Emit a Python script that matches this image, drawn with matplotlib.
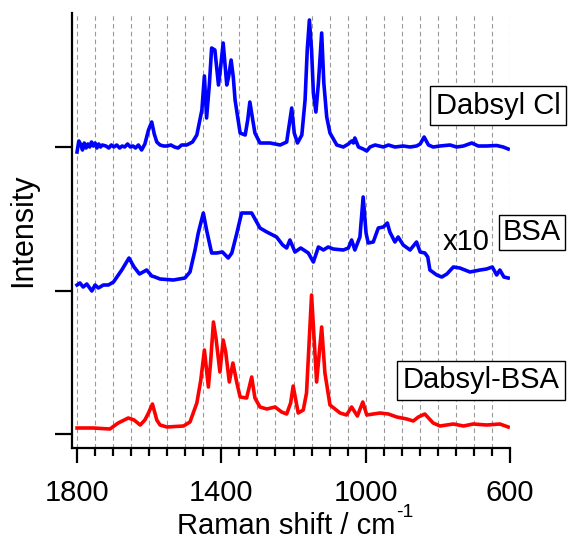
import matplotlib
matplotlib.use("Agg")
import matplotlib.pyplot as plt
import numpy as np

plt.rcParams['font.family'] = ['Liberation Sans', 'DejaVu Sans']

# Dabsyl Cl spectrum (raman shift, intensity above its own baseline)
dabsyl_cl_x = [1800, 1795, 1789, 1785, 1780, 1775, 1770, 1765, 1760, 1755, 1750, 1745, 1740,
               1735, 1730, 1720, 1712, 1705, 1698, 1690, 1682, 1675, 1668, 1660, 1652, 1645,
               1638, 1630, 1621, 1612, 1602, 1593, 1586, 1579, 1570, 1560, 1550, 1540, 1530,
               1520, 1510, 1496, 1480, 1468, 1454, 1447, 1441, 1433, 1427, 1418, 1408, 1402,
               1395, 1385, 1380, 1373, 1367, 1362, 1348, 1334, 1327, 1321, 1313, 1307, 1293,
               1265, 1237, 1219, 1205, 1198, 1189, 1177, 1168, 1162, 1156, 1150, 1145, 1138,
               1131, 1122, 1116, 1108, 1099, 1080, 1062, 1048, 1039, 1034, 1030, 1020, 1007,
               997, 988, 974, 951, 937, 919, 896, 877, 859, 849, 838, 826, 813, 794, 766, 748,
               729, 706, 688, 665, 637, 619, 605]
dabsyl_cl_y = [-5, 6, 2, -3, 4, -1, 3, 0, 5, 1, 4, -1, 3,
               0, 2, 1, -1, 2, 0, 2, -1, 1, 0, 3, 0, 1,
               -1, 2, -3, 3, 17, 25, 13, 5, 2, 1, 1, 2, 0,
               -1, 2, 2, 5, 12, 37, 71, 29, 64, 99, 97, 62, 80,
               104, 62, 70, 87, 70, 47, 14, 12, 27, 45, 27, 14, 4,
               4, 2, 5, 39, 14, 4, 12, 47, 97, 127, 97, 54, 35,
               64, 114, 64, 30, 14, 2, 0, 3, 6, 4, 9, 0, -2,
               -4, 0, 2, 0, 2, 0, 1, 0, 1, 3, 10, 2, 0, 1, 2, 0,
               1, 4, 1, 1, 1.5, 0, -2]

# BSA spectrum (shown x10)
bsa_x = [1800, 1792, 1783, 1773, 1759, 1750, 1741, 1727, 1713, 1699, 1676, 1656, 1642, 1627,
         1607, 1593, 1584, 1570, 1533, 1501, 1487, 1473, 1464, 1450, 1441, 1427, 1413, 1397,
         1381, 1371, 1357, 1344, 1330, 1316, 1293, 1274, 1247, 1230, 1219, 1210, 1196, 1180,
         1159, 1145, 1131, 1117, 1104, 1090, 1062, 1048, 1039, 1030, 1016, 1007, 999, 993,
         979, 965, 951, 940, 933, 919, 910, 896, 877, 859, 849, 836, 828, 822, 803, 789,
         775, 757, 739, 711, 683, 665, 649, 637, 628, 617, 605]
bsa_y = [6, 8, 4, 7, 0, 6, 3, 6, 6, 9, 21, 33, 24, 17,
         21, 15, 14, 12, 11, 13, 19, 41, 58, 78, 61, 38, 38, 39,
         33, 38, 58, 78, 78, 78, 63, 59, 54, 46, 43, 51, 39, 43,
         38, 29, 44, 41, 44, 42, 41, 43, 51, 41, 54, 94, 58, 48,
         49, 63, 64, 68, 59, 49, 54, 46, 41, 49, 39, 38, 34, 21, 16, 14,
         17, 24, 23, 19, 21, 22, 24, 16, 21, 14, 13]

# Dabsyl-BSA spectrum
dabsyl_bsa_x = [1800, 1755, 1709, 1686, 1658, 1642, 1625, 1612, 1602, 1591, 1579, 1570, 1551,
                1505, 1487, 1468, 1457, 1447, 1436, 1430, 1422, 1415, 1404, 1395, 1388, 1378,
                1368, 1357, 1348, 1330, 1316, 1307, 1293, 1274, 1251, 1233, 1219, 1208, 1201,
                1187, 1173, 1164, 1150, 1136, 1122, 1113, 1099, 1071, 1053, 1039, 1023, 1008,
                997, 979, 960, 937, 914, 886, 868, 854, 836, 813, 794, 757, 729, 702, 665,
                628, 605]
dabsyl_bsa_y = [6, 6, 5, 11, 16, 14, 9, 14, 21, 30, 14, 9, 7,
                8, 12, 31, 54, 84, 47, 71, 112, 96, 62, 94, 82, 52,
                71, 51, 37, 36, 57, 36, 27, 25, 27, 22, 20, 31, 48,
                21, 24, 41, 139, 52, 107, 61, 29, 21, 19, 27, 18, 32,
                19, 20, 21, 20, 17, 15, 13, 17, 20, 11, 8, 10, 8, 10, 9,
                10, 7]

offsets = [287, 143, 0]
names = ["Dabsyl Cl", "BSA", "Dabsyl-BSA"]
colors = ["blue", "blue", "red"]

fig = plt.figure(figsize=(5.68, 5.41), dpi=100)
ax = fig.add_axes([72 / 568, 93 / 541, 438 / 568, 435 / 541])

spectra = [(dabsyl_cl_x, dabsyl_cl_y), (bsa_x, bsa_y), (dabsyl_bsa_x, dabsyl_bsa_y)]
for (x, y), off, c in zip(spectra, offsets, colors):
    ax.plot(x, np.array(y) + off, color=c, lw=2.6, zorder=3)

ax.set_xlim(1814, 600)
ax.set_ylim(-14, 421)

ax.set_xticks([1800, 1400, 1000, 600])
ax.set_xticks(np.arange(600, 1801, 50), minor=True)
ax.set_yticks(offsets)
ax.set_yticklabels([])
for x in np.arange(600, 1801, 50):
    ax.axvline(x, color='#999999', lw=0.8, ls=(0, (4, 3)), zorder=1)

ax.spines['top'].set_visible(False)
ax.spines['right'].set_visible(False)
ax.spines['left'].set_linewidth(1.6)
ax.spines['bottom'].set_linewidth(1.6)
ax.tick_params(axis='x', which='major', length=11, width=1.6, labelsize=21, pad=11)
ax.tick_params(axis='x', which='minor', length=6, width=1.6)
ax.tick_params(axis='y', length=12, width=1.6)

ax.set_ylabel('Intensity', fontsize=22, labelpad=9)

# x label with a raised "-1"
fig.text(395 / 568, 1 - 534 / 541, 'Raman shift / cm', fontsize=21, ha='right', va='baseline')
fig.text(396 / 568, 1 - 517 / 541, '-1', fontsize=14, ha='left', va='baseline')

box = dict(boxstyle='square,pad=0.2', fc='white', ec='black', lw=1)
fig.text(498 / 568, 1 - 105.5 / 541, names[0], fontsize=21, ha='center', va='center', bbox=box)
fig.text(532 / 568, 1 - 232.5 / 541, names[1], fontsize=21, ha='center', va='center',
         bbox=dict(boxstyle='square,pad=0.12', fc='white', ec='black', lw=1))
fig.text(481 / 568, 1 - 380.5 / 541, names[2], fontsize=21, ha='center', va='center', bbox=box)
fig.text(466 / 568, 1 - 242 / 541, 'x10', fontsize=21, ha='center', va='center')

fig.savefig('out.png', dpi=100)
